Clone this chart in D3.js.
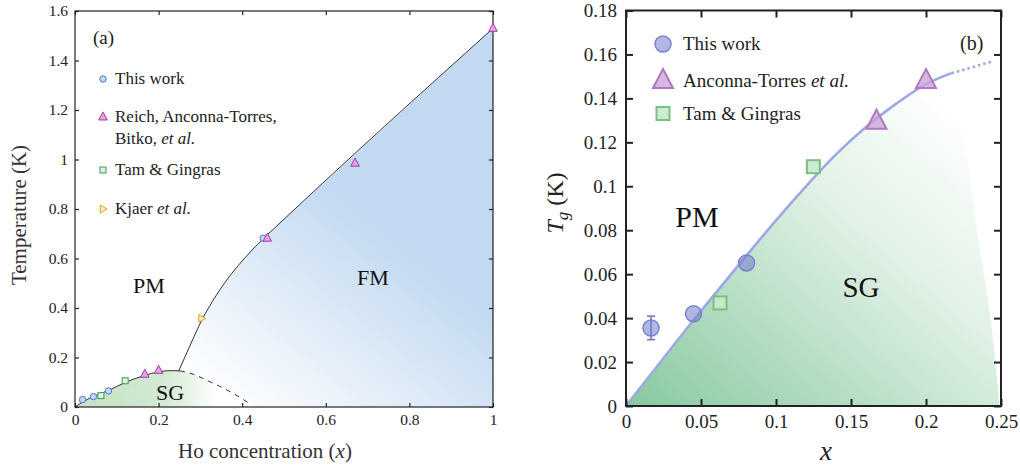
<!DOCTYPE html>
<html>
<head>
<meta charset="utf-8">
<script src="https://cdn.jsdelivr.net/npm/d3@7"></script>
<style>
  body { margin: 0; background: #fff; }
  svg { display: block; font-family: "Liberation Serif", "Times New Roman", serif; }
</style>
</head>
<body>
<svg id="chart" width="1020" height="466"></svg>
<script>
// ---- panel (a) data ----
const aXTicks = [0, 0.2, 0.4, 0.6, 0.8, 1]
const aYTicks = [0, 0.2, 0.4, 0.6, 0.8, 1, 1.2, 1.4, 1.6]
const aThisWork = [[0.018, 0.03], [0.044, 0.042], [0.08, 0.065], [0.45, 0.682]]
const aReich = [[0.167, 0.132], [0.2, 0.148], [0.46, 0.682], [0.67, 0.985], [1, 1.53]]
const aTam = [[0.062, 0.046], [0.12, 0.106]]
const aKjaer = [[0.303, 0.358]]
const aDomeSolid = [[0, 0], [0.02, 0.022], [0.05, 0.047], [0.08, 0.067], [0.12, 0.099], [0.167, 0.128], [0.2, 0.142], [0.227, 0.147], [0.251, 0.146]]
const aDomeDashed = [[0.251, 0.146], [0.275, 0.137], [0.323, 0.102], [0.371, 0.062], [0.415, 0.017]]
const aFmLine = [[0.248, 0.145], [0.265, 0.21], [0.285, 0.285], [0.303, 0.35], [0.33, 0.43], [0.363, 0.513], [0.4, 0.59], [0.443, 0.668], [0.48, 0.727], [1, 1.53]]

// ---- panel (b) data ----
const bXTicks = [0, 0.05, 0.1, 0.15, 0.2, 0.25]
const bYTicks = [0, 0.02, 0.04, 0.06, 0.08, 0.1, 0.12, 0.14, 0.16, 0.18]
const bThisWork = [[0.0167, 0.0355], [0.045, 0.042], [0.0804, 0.0651]]
const bThisWorkErr = [[0.0167, 0.0302, 0.0409]]
const bAnconna = [[0.167, 0.1294], [0.2, 0.1479]]
const bTam = [[0.0627, 0.0469], [0.1249, 0.1089]]
const bCurveSolid = [[0, 0], [0.02, 0.0174], [0.04, 0.0348], [0.06, 0.0516], [0.08, 0.0682], [0.1, 0.0845], [0.12, 0.1], [0.14, 0.1145], [0.16, 0.127], [0.18, 0.1375], [0.2, 0.1465], [0.217, 0.1515]]
const bCurveDotted = [[0.217, 0.1515], [0.23, 0.154], [0.245, 0.157]]
const bSgEdge = [[0.217, 0.1515], [0.226, 0.12], [0.234, 0.08], [0.243, 0.04], [0.249, 0]]

const svg = d3.select('#chart')
const defs = svg.append('defs')
const fmt = d3.format('~g')

// ================= panel (a) =================
const ax = d3.scaleLinear().domain([0, 1]).range([75, 493])
const ay = d3.scaleLinear().domain([0, 1.6]).range([407, 11])
const ga = svg.append('g')
const aline = d3.line().x(d => ax(d[0])).y(d => ay(d[1])).curve(d3.curveMonotoneX)

// gradients
let gFm = defs.append('linearGradient').attr('id', 'gFm').attr('gradientUnits', 'userSpaceOnUse')
  .attr('x1', ax(0.72)).attr('y1', ay(0.75)).attr('x2', ax(0.36)).attr('y2', ay(0.0))
gFm.append('stop').attr('offset', 0).attr('stop-color', '#c2d9f1')
gFm.append('stop').attr('offset', 1).attr('stop-color', '#ffffff')

let gSgA = defs.append('linearGradient').attr('id', 'gSgA').attr('gradientUnits', 'userSpaceOnUse')
  .attr('x1', ax(0.08)).attr('y1', 0).attr('x2', ax(0.34)).attr('y2', 0)
gSgA.append('stop').attr('offset', 0).attr('stop-color', '#c9e4c9')
gSgA.append('stop').attr('offset', 0.5).attr('stop-color', '#d3e9d3')
gSgA.append('stop').attr('offset', 1).attr('stop-color', '#ffffff')

// FM region
let fmPoly = aFmLine.concat([[1, 0], [0.415, 0]], aDomeDashed.slice().reverse())
ga.append('path')
  .attr('d', d3.line().x(d => ax(d[0])).y(d => ay(d[1])).curve(d3.curveLinear)(fmPoly))
  .attr('fill', 'url(#gFm)')

// SG region
let sgPoly = aDomeSolid.concat(aDomeDashed.slice(1), [[0.415, 0]])
ga.append('path')
  .attr('d', aline(sgPoly) + 'Z')
  .attr('fill', 'url(#gSgA)')

// boundaries
ga.append('path').attr('d', aline(aDomeSolid)).attr('fill', 'none').attr('stroke', '#333').attr('stroke-width', 1)
ga.append('path').attr('d', aline(aDomeDashed)).attr('fill', 'none').attr('stroke', '#333').attr('stroke-width', 1).attr('stroke-dasharray', '5,5')
ga.append('path').attr('d', aline(aFmLine))
  .attr('fill', 'none').attr('stroke', '#333').attr('stroke-width', 1)

// axes
function frame(g, x, y, xt, yt, tick, pad, fs, sw) {
  g.append('g').attr('transform', `translate(0,${y.range()[0]})`)
    .call(d3.axisBottom(x).tickValues(xt).tickFormat(fmt).tickSize(-tick).tickSizeOuter(0).tickPadding(pad))
  g.append('g').attr('transform', `translate(${x.range()[0]},0)`)
    .call(d3.axisLeft(y).tickValues(yt).tickFormat(fmt).tickSize(-tick).tickSizeOuter(0).tickPadding(pad))
  g.append('g').attr('transform', `translate(0,${y.range()[1]})`)
    .call(d3.axisTop(x).tickValues(xt).tickFormat('').tickSize(-tick).tickSizeOuter(0))
  g.append('g').attr('transform', `translate(${x.range()[1]},0)`)
    .call(d3.axisRight(y).tickValues(yt).tickFormat('').tickSize(-tick).tickSizeOuter(0))
  g.selectAll('.domain').remove()
  g.selectAll('.tick line').attr('stroke', '#222').attr('stroke-width', sw)
  g.selectAll('.tick text').attr('font-family', '"Liberation Serif", serif').attr('font-size', fs).attr('fill', '#222')
  g.append('rect').attr('x', x.range()[0]).attr('y', y.range()[1])
    .attr('width', x.range()[1] - x.range()[0]).attr('height', y.range()[0] - y.range()[1])
    .attr('fill', 'none').attr('stroke', '#222').attr('stroke-width', sw)
}
frame(ga, ax, ay, aXTicks, aYTicks, 4, 7, 15.5, 1.2)

// markers
const tri = s => `M0,${-s * 0.6}L${s / 2},${s * 0.35}L${-s / 2},${s * 0.35}Z`
const triR = s => `M${s * 0.5},0L${-s * 0.35},${-s / 2}L${-s * 0.35},${s / 2}Z`

ga.append('g').selectAll('circle').data(aThisWork).join('circle')
  .attr('cx', d => ax(d[0])).attr('cy', d => ay(d[1])).attr('r', 3.2)
  .attr('fill', '#c6d8f2').attr('stroke', '#4a78cf').attr('stroke-width', 1)
ga.append('g').selectAll('path').data(aReich).join('path')
  .attr('transform', d => `translate(${ax(d[0])},${ay(d[1])})`).attr('d', tri(8.5))
  .attr('fill', '#dfa6df').attr('stroke', '#a43aa8').attr('stroke-width', 1)
ga.append('g').selectAll('rect').data(aTam).join('rect')
  .attr('x', d => ax(d[0]) - 3).attr('y', d => ay(d[1]) - 3).attr('width', 6).attr('height', 6)
  .attr('fill', '#e2f2e2').attr('stroke', '#3a9a52').attr('stroke-width', 1)
ga.append('g').selectAll('path').data(aKjaer).join('path')
  .attr('transform', d => `translate(${ax(d[0])},${ay(d[1])})`).attr('d', triR(8))
  .attr('fill', '#fbefc8').attr('stroke', '#e3a021').attr('stroke-width', 1)

// legend (a)
const aLeg = ga.append('g').attr('font-size', 17).attr('fill', '#222')
aLeg.append('circle').attr('cx', 103).attr('cy', 79).attr('r', 3.2).attr('fill', '#c6d8f2').attr('stroke', '#4a78cf')
aLeg.append('path').attr('transform', 'translate(103,117)').attr('d', tri(8.5)).attr('fill', '#dfa6df').attr('stroke', '#a43aa8')
aLeg.append('rect').attr('x', 100).attr('y', 167).attr('width', 6).attr('height', 6).attr('fill', '#e2f2e2').attr('stroke', '#3a9a52')
aLeg.append('path').attr('transform', 'translate(103,209)').attr('d', triR(8)).attr('fill', '#fbefc8').attr('stroke', '#e3a021')
aLeg.append('text').attr('x', 115).attr('y', 84).text('This work')
aLeg.append('text').attr('x', 115).attr('y', 122).text('Reich, Anconna-Torres,')
let t2 = aLeg.append('text').attr('x', 115).attr('y', 144)
t2.append('tspan').text('Bitko, ')
t2.append('tspan').attr('font-style', 'italic').text('et al.')
aLeg.append('text').attr('x', 115).attr('y', 175).text('Tam & Gingras')
let t4 = aLeg.append('text').attr('x', 115).attr('y', 214)
t4.append('tspan').text('Kjaer ')
t4.append('tspan').attr('font-style', 'italic').text('et al.')

// labels (a)
ga.append('text').attr('x', 93).attr('y', 44).attr('font-size', 19).attr('fill', '#222').text('(a)')
ga.append('text').attr('x', 149).attr('y', 293).attr('text-anchor', 'middle').attr('font-size', 22).attr('fill', '#111').text('PM')
ga.append('text').attr('x', 170).attr('y', 400).attr('text-anchor', 'middle').attr('font-size', 22).attr('fill', '#111').text('SG')
ga.append('text').attr('x', 373).attr('y', 285).attr('text-anchor', 'middle').attr('font-size', 22).attr('fill', '#111').text('FM')
let axl = ga.append('text').attr('x', 265).attr('y', 458).attr('text-anchor', 'middle').attr('font-size', 21).attr('fill', '#333')
axl.append('tspan').text('Ho concentration (')
axl.append('tspan').attr('font-style', 'italic').text('x')
axl.append('tspan').text(')')
ga.append('text').attr('transform', 'translate(26,215) rotate(-90)').attr('text-anchor', 'middle')
  .attr('font-size', 21).attr('fill', '#333').text('Temperature (K)')

// ================= panel (b) =================
const bx = d3.scaleLinear().domain([0, 0.25]).range([626, 1001])
const by = d3.scaleLinear().domain([0, 0.18]).range([406, 10.5])
const gb = svg.append('g')
const bline = d3.line().x(d => bx(d[0])).y(d => by(d[1])).curve(d3.curveMonotoneX)

let gSgB = defs.append('linearGradient').attr('id', 'gSgB').attr('gradientUnits', 'userSpaceOnUse')
  .attr('x1', bx(0)).attr('y1', by(0)).attr('x2', bx(0.2)).attr('y2', by(0.16))
gSgB.append('stop').attr('offset', 0).attr('stop-color', '#86c9a0')
gSgB.append('stop').attr('offset', 0.3).attr('stop-color', '#b3dcc1')
gSgB.append('stop').attr('offset', 0.62).attr('stop-color', '#e0f1e5')
gSgB.append('stop').attr('offset', 0.95).attr('stop-color', '#ffffff')

let sgB = bCurveSolid.concat(bSgEdge.slice(1))
gb.append('path')
  .attr('d', d3.line().x(d => bx(d[0])).y(d => by(d[1])).curve(d3.curveMonotoneY)(bSgEdge)
    .replace(/^M/, bline(bCurveSolid) + 'L') + 'L' + bx(0) + ',' + by(0) + 'Z')
  .attr('fill', 'url(#gSgB)')

gb.append('path').attr('d', bline(bCurveSolid)).attr('fill', 'none').attr('stroke', '#9ea8e2').attr('stroke-width', 2.6)
gb.append('path').attr('d', bline(bCurveDotted)).attr('fill', 'none').attr('stroke', '#9ea8e2').attr('stroke-width', 2.6).attr('stroke-dasharray', '2.5,3')

frame(gb, bx, by, bXTicks, bYTicks, 7, 9, 19, 2)

// error bars
let eb = gb.append('g').attr('stroke', '#6f79c4').attr('stroke-width', 1.6)
eb.selectAll('line.v').data(bThisWorkErr).join('line').attr('class', 'v')
  .attr('x1', d => bx(d[0])).attr('x2', d => bx(d[0])).attr('y1', d => by(d[1])).attr('y2', d => by(d[2]))
eb.selectAll('line.t').data(bThisWorkErr).join('line').attr('class', 't')
  .attr('x1', d => bx(d[0]) - 4).attr('x2', d => bx(d[0]) + 4).attr('y1', d => by(d[2])).attr('y2', d => by(d[2]))
eb.selectAll('line.b').data(bThisWorkErr).join('line').attr('class', 'b')
  .attr('x1', d => bx(d[0]) - 4).attr('x2', d => bx(d[0]) + 4).attr('y1', d => by(d[1])).attr('y2', d => by(d[1]))

gb.append('g').selectAll('circle').data(bThisWork).join('circle')
  .attr('cx', d => bx(d[0])).attr('cy', d => by(d[1])).attr('r', 8)
  .attr('fill', 'rgba(112,124,206,0.55)').attr('stroke', '#7983cb').attr('stroke-width', 1.5)
gb.append('g').selectAll('path').data(bAnconna).join('path')
  .attr('transform', d => `translate(${bx(d[0])},${by(d[1])})`).attr('d', tri(20))
  .attr('fill', 'rgba(200,160,215,0.75)').attr('stroke', '#b078c0').attr('stroke-width', 2)
gb.append('g').selectAll('rect').data(bTam).join('rect')
  .attr('x', d => bx(d[0]) - 6.5).attr('y', d => by(d[1]) - 6.5).attr('width', 13).attr('height', 13)
  .attr('fill', 'rgba(200,232,205,0.9)').attr('stroke', '#79c17e').attr('stroke-width', 2)

// legend (b)
const bLeg = gb.append('g').attr('font-size', 19).attr('fill', '#222')
bLeg.append('circle').attr('cx', 663).attr('cy', 44).attr('r', 8)
  .attr('fill', 'rgba(112,124,206,0.55)').attr('stroke', '#7983cb').attr('stroke-width', 1.5)
bLeg.append('path').attr('transform', 'translate(663,81)').attr('d', tri(20))
  .attr('fill', 'rgba(200,160,215,0.75)').attr('stroke', '#b078c0').attr('stroke-width', 2)
bLeg.append('rect').attr('x', 656.5).attr('y', 107).attr('width', 13).attr('height', 13)
  .attr('fill', 'rgba(200,232,205,0.9)').attr('stroke', '#79c17e').attr('stroke-width', 2)
bLeg.append('text').attr('x', 683).attr('y', 50).text('This work')
let bt2 = bLeg.append('text').attr('x', 683).attr('y', 87)
bt2.append('tspan').text('Anconna-Torres ')
bt2.append('tspan').attr('font-style', 'italic').text('et al.')
bLeg.append('text').attr('x', 683).attr('y', 120).text('Tam & Gingras')

gb.append('text').attr('x', 960).attr('y', 50).attr('font-size', 20).attr('fill', '#222').text('(b)')
gb.append('text').attr('x', 697).attr('y', 227).attr('text-anchor', 'middle').attr('font-size', 30).attr('fill', '#111').text('PM')
gb.append('text').attr('x', 861).attr('y', 297).attr('text-anchor', 'middle').attr('font-size', 29).attr('fill', '#111').text('SG')
gb.append('text').attr('x', 826).attr('y', 460).attr('text-anchor', 'middle').attr('font-size', 27)
  .attr('font-style', 'italic').attr('fill', '#222').text('x')
let yl = gb.append('text').attr('transform', 'translate(563,203) rotate(-90)').attr('text-anchor', 'middle')
  .attr('font-size', 24).attr('fill', '#222')
yl.append('tspan').attr('font-style', 'italic').text('T')
yl.append('tspan').attr('font-style', 'italic').attr('font-size', 17).attr('dy', 5).text('g')
yl.append('tspan').attr('dy', -5).text(' (K)')
</script>
</body>
</html>
